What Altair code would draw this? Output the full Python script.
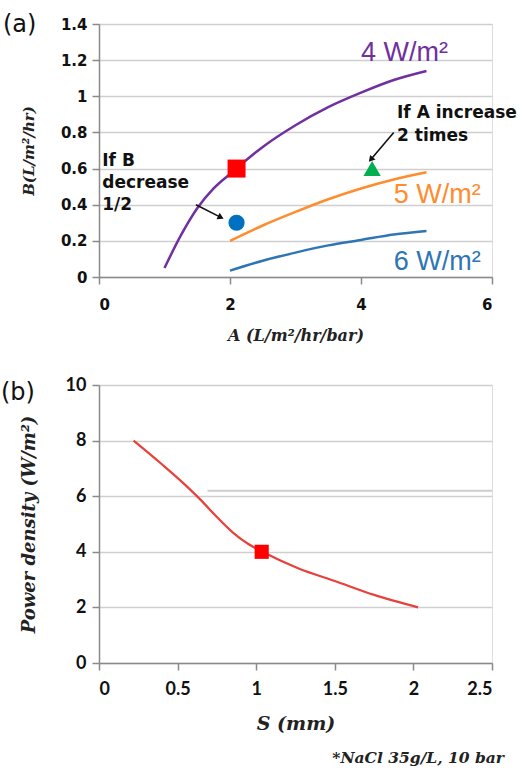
import math
import altair as alt
import pandas as pd

# ---------------- data: panel (a) ----------------
A_4W = [1.0, 1.25, 1.5, 1.75, 2.0, 2.5, 3.0, 3.5, 4.0, 4.5, 5.0]
B_4W = [0.05, 0.23, 0.38, 0.49, 0.57, 0.72, 0.84, 0.94, 1.02, 1.09, 1.14]
A_5W = [2.0, 2.5, 3.0, 3.5, 4.0, 4.5, 5.0]
B_5W = [0.20, 0.285, 0.36, 0.43, 0.49, 0.54, 0.58]
A_6W = [2.0, 2.5, 3.0, 3.5, 4.0, 4.5, 5.0]
B_6W = [0.035, 0.09, 0.135, 0.175, 0.205, 0.235, 0.255]

SQUARE_A = [2.1]; SQUARE_B = [0.6]
CIRCLE_A = [2.1]; CIRCLE_B = [0.3]
TRI_A = [4.17]; TRI_B = [0.6]

CURVE_LABELS = ["4 W/m²", "5 W/m²", "6 W/m²"]
CURVE_LABEL_A = [4.0, 4.5, 4.5]
CURVE_LABEL_B = [1.24, 0.455, 0.083]
CURVE_COLORS = ["#7030A0", "#FF8C2E", "#2E75B6"]

NOTE_TEXT = ["If A increase", "2 times", "If B", "decrease", "1/2"]
NOTE_A = [4.55, 4.55, 0.05, 0.05, 0.05]
NOTE_B = [0.905, 0.78, 0.64, 0.52, 0.40]

ARROW_X1 = [1.48, 4.50]; ARROW_Y1 = [0.40, 0.80]
ARROW_X2 = [1.86, 4.15]; ARROW_Y2 = [0.33, 0.65]

A_TICKS = [0, 2, 4, 6]
B_TICKS = [0, 0.2, 0.4, 0.6, 0.8, 1.0, 1.2, 1.4]

# ---------------- data: panel (b) ----------------
S_MM = [0.22, 0.4, 0.55, 0.65, 0.75, 0.85, 0.95, 1.04, 1.27, 1.5, 1.75, 2.03]
POWER = [8.0, 7.15, 6.4, 5.85, 5.25, 4.7, 4.28, 4.0, 3.4, 2.95, 2.45, 2.0]
SQ_S = [1.035]; SQ_P = [4.0]
S_TICKS = [0, 0.5, 1, 1.5, 2, 2.5]
P_TICKS = [0, 2, 4, 6, 8, 10]
ARTIFACT_S = [0.69]; ARTIFACT_S2 = [2.5]; ARTIFACT_P = [6.2]

W, H1, H2 = 393, 253, 278

TICK_FONT_A = "DejaVu Sans"
TICK_FONT_B = "Lato"
SERIF = "DejaVu Serif"
GRID = "#cfcfcf"
DOMAIN = "#8a8a8a"

xs_a = alt.Scale(domain=[0, 6], nice=False, zero=True)
ys_a = alt.Scale(domain=[0, 1.4], nice=False, zero=True)

ax_xa = alt.Axis(values=A_TICKS, title="A (L/m²/hr/bar)", grid=False,
                 labelFont=TICK_FONT_A, labelFontWeight="bold", labelFontSize=15,
                 labelColor="#111", tickSize=7, tickColor=DOMAIN, tickWidth=1.5,
                 domainColor=DOMAIN, domainWidth=1.5, labelPadding=13,
                 titleFont=SERIF, titleFontStyle="italic", titleFontWeight="bold",
                 titleFontSize=16, titleColor="#222", titlePadding=15)
ax_ya = alt.Axis(values=B_TICKS, format="~g", title="B(L/m²/hr)", grid=True,
                 gridColor=GRID, gridWidth=1.5,
                 labelFont=TICK_FONT_A, labelFontWeight="bold", labelFontSize=15,
                 labelColor="#111", tickSize=7, tickColor=DOMAIN, tickWidth=1.5,
                 domainColor=DOMAIN, domainWidth=1.5, labelPadding=5,
                 titleFont=SERIF, titleFontStyle="italic", titleFontWeight="bold",
                 titleFontSize=15, titleColor="#222", titlePadding=24)


def xa(field="x"):
    return alt.X(f"{field}:Q", scale=xs_a, axis=ax_xa)


def ya(field="y"):
    return alt.Y(f"{field}:Q", scale=ys_a, axis=ax_ya)


def line_a(xv, yv, color):
    df = pd.DataFrame({"x": xv, "y": yv})
    return alt.Chart(df).mark_line(color=color, strokeWidth=2.5,
                                   interpolate="monotone").encode(x=xa(), y=ya())


lines_a = [line_a(A_4W, B_4W, CURVE_COLORS[0]),
           line_a(A_5W, B_5W, CURVE_COLORS[1]),
           line_a(A_6W, B_6W, CURVE_COLORS[2])]

sq = alt.Chart(pd.DataFrame({"x": SQUARE_A, "y": SQUARE_B})).mark_point(
    shape="square", filled=True, size=324, color="#FF0000", opacity=1).encode(x=xa(), y=ya())
circ = alt.Chart(pd.DataFrame({"x": CIRCLE_A, "y": CIRCLE_B})).mark_point(
    shape="circle", filled=True, size=260, color="#0070C0", opacity=1).encode(x=xa(), y=ya())
tri = alt.Chart(pd.DataFrame({"x": TRI_A, "y": TRI_B})).mark_point(
    shape="triangle-up", filled=True, size=300, color="#00B050", opacity=1).encode(x=xa(), y=ya())

lab_df = pd.DataFrame({"x": CURVE_LABEL_A, "y": CURVE_LABEL_B, "t": CURVE_LABELS,
                       "c": CURVE_COLORS})
curve_labels = alt.Chart(lab_df).mark_text(
    align="left", baseline="middle", font="Liberation Sans", fontSize=27).encode(
    x=xa(), y=ya(), text="t:N",
    color=alt.Color("c:N", scale=None, legend=None))

note_df = pd.DataFrame({"x": NOTE_A, "y": NOTE_B, "t": NOTE_TEXT})
notes = alt.Chart(note_df).mark_text(
    align="left", baseline="middle", font="DejaVu Sans", fontWeight="bold",
    fontSize=17, color="#111").encode(x=xa(), y=ya(), text="t:N")

px_x = W / 6.0
px_y = H1 / 1.4
angles = [math.degrees(math.atan2((x2 - x1) * px_x, (y2 - y1) * px_y)) % 360
          for x1, y1, x2, y2 in zip(ARROW_X1, ARROW_Y1, ARROW_X2, ARROW_Y2)]
arr_df = pd.DataFrame({"x": ARROW_X1, "y": ARROW_Y1, "x2": ARROW_X2, "y2": ARROW_Y2,
                       "ang": angles})
arrow_lines = alt.Chart(arr_df).mark_rule(color="#111", strokeWidth=1.6).encode(
    x=xa(), y=ya(), x2="x2:Q", y2="y2:Q")
arrow_heads = alt.Chart(arr_df).mark_point(
    shape="triangle-up", filled=True, size=50, color="#111", opacity=1).encode(
    x=xa("x2"), y=ya("y2"), angle=alt.Angle("ang:Q", scale=None))

tag_a = alt.Chart(pd.DataFrame({"t": ["(a)"]})).mark_text(
    align="left", baseline="middle", font="DejaVu Sans", fontSize=24, color="#111").encode(
    text="t:N", x=alt.value(-96), y=alt.value(1))

panel_a = alt.layer(*lines_a, arrow_lines, arrow_heads, sq, circ, tri,
                    curve_labels, notes, tag_a).properties(width=W, height=H1)

# ---------------- panel (b) ----------------
xs_b = alt.Scale(domain=[0, 2.5], nice=False, zero=True)
ys_b = alt.Scale(domain=[0, 10], nice=False, zero=True)
ax_xb = alt.Axis(values=S_TICKS, format="~g", title="S (mm)", grid=False,
                 labelFont=TICK_FONT_B, labelFontWeight="bold", labelFontSize=18,
                 labelColor="#111", tickSize=7, tickColor=DOMAIN, tickWidth=1.5,
                 domainColor=DOMAIN, domainWidth=1.5, labelPadding=10,
                 titleFont=SERIF, titleFontStyle="italic", titleFontWeight="bold",
                 titleFontSize=19, titleColor="#222", titlePadding=16)
ax_yb = alt.Axis(values=P_TICKS, title="Power density (W/m²)", grid=True,
                 gridColor=GRID, gridWidth=1.5,
                 labelFont=TICK_FONT_B, labelFontWeight="bold", labelFontSize=18,
                 labelColor="#111", tickSize=7, tickColor=DOMAIN, tickWidth=1.5,
                 domainColor=DOMAIN, domainWidth=1.5, labelPadding=6,
                 titleFont=SERIF, titleFontStyle="italic", titleFontWeight="bold",
                 titleFontSize=18, titleColor="#222", titlePadding=27)


def xb(field="x"):
    return alt.X(f"{field}:Q", scale=xs_b, axis=ax_xb)


def yb(field="y"):
    return alt.Y(f"{field}:Q", scale=ys_b, axis=ax_yb)


art = alt.Chart(pd.DataFrame({"x": ARTIFACT_S, "x2": ARTIFACT_S2, "y": ARTIFACT_P})).mark_rule(
    color="#cdcdcd", strokeWidth=2).encode(x=xb(), x2="x2:Q", y=yb())
line_b = alt.Chart(pd.DataFrame({"x": S_MM, "y": POWER})).mark_line(
    color="#E8403A", strokeWidth=2.2, interpolate="monotone").encode(x=xb(), y=yb())
sq_b = alt.Chart(pd.DataFrame({"x": SQ_S, "y": SQ_P})).mark_point(
    shape="square", filled=True, size=200, color="#FF0000", opacity=1).encode(x=xb(), y=yb())
tag_b = alt.Chart(pd.DataFrame({"t": ["(b)"]})).mark_text(
    align="left", baseline="middle", font="DejaVu Sans", fontSize=24, color="#111").encode(
    text="t:N", x=alt.value(-98), y=alt.value(8))
foot = alt.Chart(pd.DataFrame({"t": ["*NaCl 35g/L, 10 bar"]})).mark_text(
    align="right", baseline="middle", font=SERIF, fontStyle="italic", fontWeight="bold",
    fontSize=15.5, color="#222").encode(text="t:N", x=alt.value(405), y=alt.value(373))

panel_b = alt.layer(art, line_b, sq_b, tag_b, foot).properties(width=W, height=H2)

chart = alt.vconcat(panel_a, panel_b, spacing=31).properties(
    padding={"left": 0, "top": 12, "right": 0, "bottom": 0}
).configure_view(stroke="#9a9a9a", strokeWidth=1.5).configure(background="white")

chart.save("out.html", embed_options={"renderer": "svg", "actions": False})
